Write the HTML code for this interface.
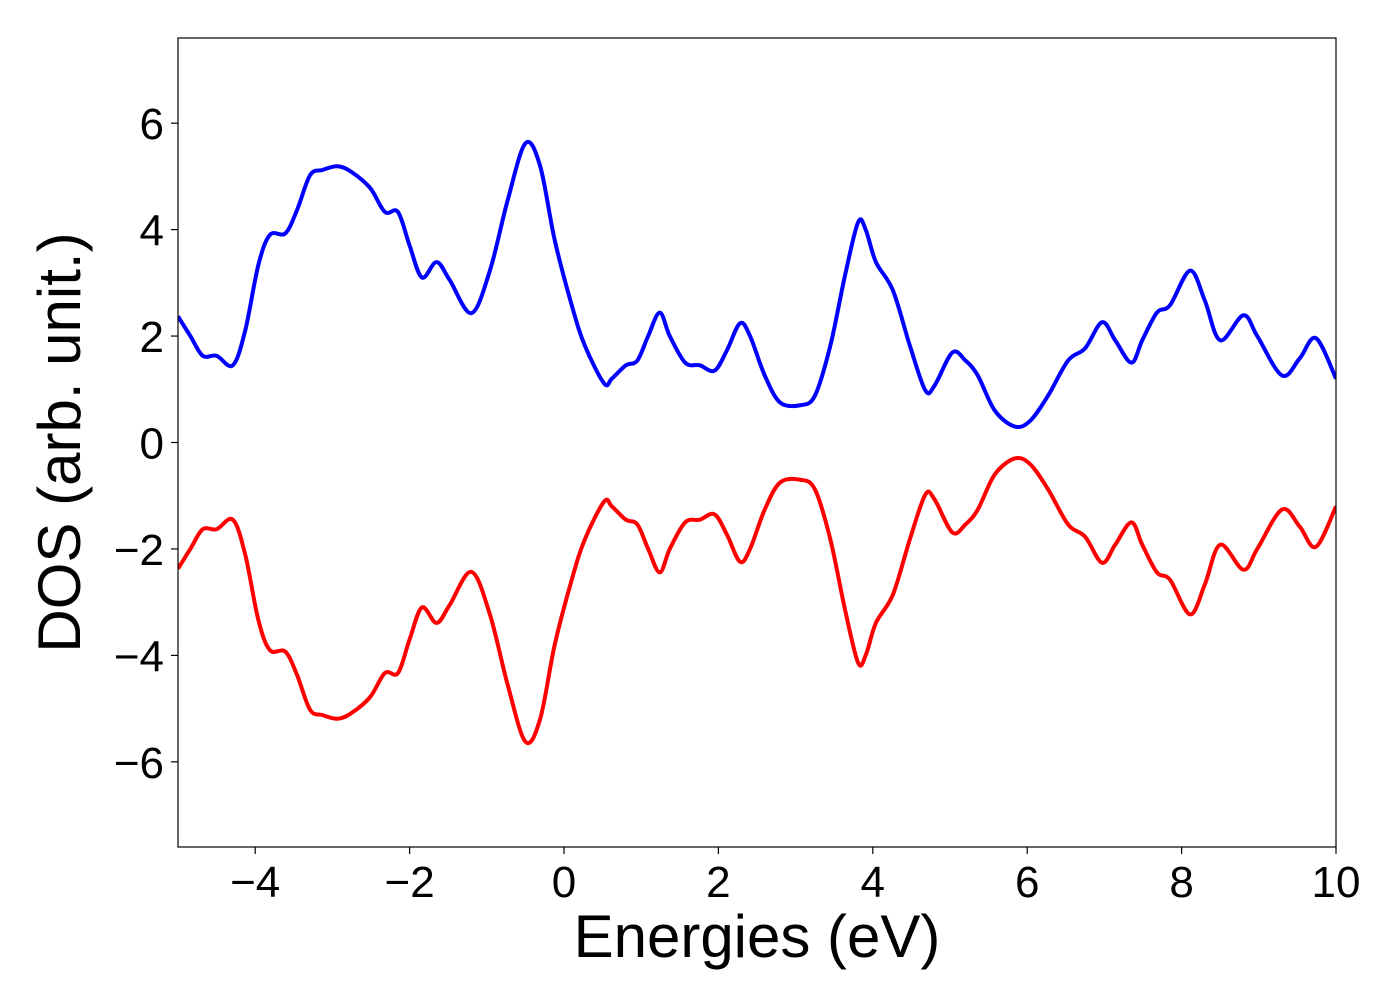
<!DOCTYPE html>
<html><head><meta charset="utf-8"><style>
body{margin:0;background:#fff;}
svg text{font-family:"Liberation Sans","DejaVu Sans",sans-serif;fill:#000;}
</style></head><body>
<svg id="chart" width="1400" height="1000" viewBox="0 0 1400 1000" xmlns="http://www.w3.org/2000/svg"></svg>
<script>
const energies=[-5,-4.84,-4.68,-4.5,-4.29,-4.13,-3.96,-3.81,-3.61,-3.46,-3.29,-3.13,-2.93,-2.75,-2.51,-2.32,-2.15,-2.0,-1.84,-1.65,-1.48,-1.2,-0.96,-0.73,-0.5,-0.31,-0.12,0.1,0.27,0.52,0.62,0.8,0.95,1.09,1.24,1.37,1.57,1.76,1.95,2.11,2.28,2.41,2.6,2.8,3.06,3.25,3.45,3.64,3.81,3.91,4.04,4.26,4.48,4.68,4.8,5.03,5.2,5.36,5.58,5.84,6.04,6.27,6.53,6.75,6.97,7.14,7.35,7.49,7.68,7.85,8.11,8.3,8.5,8.8,8.98,9.3,9.53,9.74,10];
const dosUp=[2.37,2.0,1.63,1.63,1.45,2.1,3.33,3.9,3.93,4.36,5.02,5.12,5.19,5.08,4.78,4.33,4.33,3.7,3.1,3.39,3.05,2.43,3.23,4.55,5.62,5.2,3.8,2.58,1.82,1.11,1.2,1.45,1.54,2.0,2.44,2.0,1.5,1.45,1.35,1.73,2.24,2.0,1.26,0.75,0.7,0.88,1.82,3.14,4.14,3.99,3.39,2.86,1.82,0.98,1.07,1.69,1.54,1.26,0.6,0.3,0.41,0.88,1.54,1.77,2.26,1.92,1.5,1.92,2.44,2.58,3.23,2.67,1.92,2.39,2.0,1.26,1.58,1.96,1.2];
const dosDown=dosUp.map(v=>-v);
const xTicks=[-4,-2,0,2,4,6,8,10];
const yTicks=[-6,-4,-2,0,2,4,6];
const L=178,R=1336,T=38,B=847,X0=-5,X1=10,Y0=-7.6,Y1=7.6;
const sx=v=>L+(v-X0)/(X1-X0)*(R-L);
const sy=v=>B-(v-Y0)/(Y1-Y0)*(B-T);
const svg=document.getElementById('chart');
const NS='http://www.w3.org/2000/svg';
function mk(tag,attrs){const e=document.createElementNS(NS,tag);for(const k in attrs)e.setAttribute(k,attrs[k]);svg.appendChild(e);return e;}
function fmt(v){return v<0?'\u2212'+Math.abs(v):String(v);}
const clip=document.createElementNS(NS,'clipPath');clip.setAttribute('id','pc');
const cr=document.createElementNS(NS,'rect');cr.setAttribute('x',L);cr.setAttribute('y',T);cr.setAttribute('width',R-L);cr.setAttribute('height',B-T);
clip.appendChild(cr);svg.appendChild(clip);
function pathFor(vals){
  const p=energies.map((e,i)=>[sx(e),sy(vals[i])]);
  let d='M'+p[0][0]+','+p[0][1];
  for(let i=0;i<p.length-1;i++){
    const p0=p[Math.max(0,i-1)],p1=p[i],p2=p[i+1],p3=p[Math.min(p.length-1,i+2)];
    const c1=[p1[0]+(p2[0]-p0[0])/6,p1[1]+(p2[1]-p0[1])/6];
    const c2=[p2[0]-(p3[0]-p1[0])/6,p2[1]-(p3[1]-p1[1])/6];
    d+=' C'+c1[0]+','+c1[1]+' '+c2[0]+','+c2[1]+' '+p2[0]+','+p2[1];
  }
  return d;
}
const up=mk('path',{d:pathFor(dosUp),fill:'none',stroke:'#0000ff','stroke-width':4,'clip-path':'url(#pc)'});


const dn=mk('path',{d:pathFor(dosDown),fill:'none',stroke:'#ff0000','stroke-width':4,'clip-path':'url(#pc)'});


const fr=mk('rect',{x:L,y:T,width:R-L,height:B-T,fill:'none',stroke:'#000','stroke-width':1.2});


xTicks.forEach(v=>{
  const t=mk('line',{x1:sx(v),x2:sx(v),y1:B,y2:B+7,stroke:'#000','stroke-width':1.2});
  
  
  const tx=mk('text',{x:sx(v),y:B+50,'text-anchor':'middle','font-size':44});
  tx.textContent=fmt(v);
  
  
});
yTicks.forEach(v=>{
  const t=mk('line',{x1:L-7,x2:L,y1:sy(v),y2:sy(v),stroke:'#000','stroke-width':1.2});
  
  
  const tx=mk('text',{x:L-14,y:sy(v)+16,'text-anchor':'end','font-size':44});
  tx.textContent=fmt(v);
  
  
});
const xt=mk('text',{x:(L+R)/2,y:957,'text-anchor':'middle','font-size':60});
xt.textContent='Energies (eV)';


const yt=mk('text',{x:0,y:0,'text-anchor':'middle','font-size':60,transform:'translate(80,'+((T+B)/2)+') rotate(-90)'});
yt.textContent='DOS (arb. unit.)';


</script>
</body></html>
